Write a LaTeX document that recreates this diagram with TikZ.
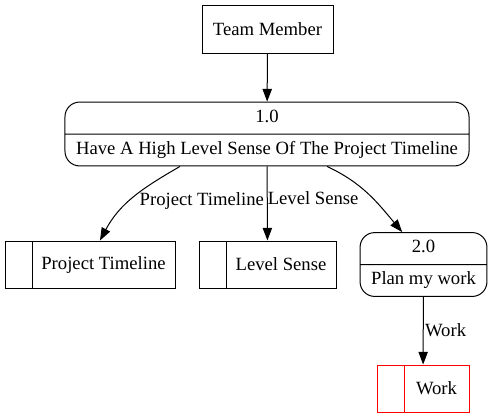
\documentclass[tikz,border=0pt]{standalone}
\usepackage{fontspec}
\setmainfont{Liberation Serif}
\usetikzlibrary{arrows.meta, shapes.multipart}

\begin{document}
\begin{tikzpicture}[x=0.75pt, y=-0.75pt, line width=0.75pt,
		every node/.style={font=\fontsize{14pt}{16pt}\selectfont},
		entity/.style={draw, minimum width=98.25pt, minimum height=36pt},
		process/.style={draw, rounded corners=11pt, rectangle split, rectangle split parts=2, inner xsep=8.3pt, inner ysep=3.6pt},
		store/.style={draw=#1, color=#1, text=black, minimum height=35.25pt, inner sep=0pt,
			path picture={\draw[#1] ([xshift=20.25pt]path picture bounding box.north west) -- ([xshift=20.25pt]path picture bounding box.south west);}},
		store/.default=black,
		flow/.style={-{Triangle[length=9.5pt, width=7pt]}},
		lbl/.style={anchor=west, inner sep=1pt}]
			\def\tabw{20.25pt}
			
			\useasboundingbox (0,0) rectangle (491,419);
			
			\node[entity] (tm) at (267.5,29) {Team Member};
			\node[process, minimum width=298.5pt] (p1) at (267,134) {\strut 1.0\nodepart{two}\strut Have A High Level Sense Of The Project Timeline};
			
			\node[store, minimum width=127.5pt] (pt) at (90,264.5) {\hspace{\tabw}Project Timeline};
			\node[store, minimum width=102.75pt] (ls) at (267.5,264.5) {\hspace{\tabw}Level Sense};
			\node[process, minimum width=93.75pt] (p2) at (423.5,264.5) {\strut 2.0\nodepart{two}\strut Plan my work};
			\node[store=red, minimum width=69pt] (wk) at (423,388.5) {\hspace{\tabw}Work};
			
			\draw[flow] (tm) -- (p1);
			\draw[flow] ([xshift=-65.25pt]p1.south) to[out=-150, in=62] node[lbl, pos=0.55, xshift=6pt] {Project Timeline} ([xshift=7.5pt]pt.north);
			\draw[flow] (p1) -- node[lbl, pos=0.43, xshift=-1pt] {Level Sense} (ls);
			\draw[flow] ([xshift=45pt]p1.south) to[out=-25, in=130] ([xshift=-16pt]p2.north);
			\draw[flow] (p2) -- node[lbl, pos=0.49] {Work} (wk);
		\end{tikzpicture}
\end{document}
